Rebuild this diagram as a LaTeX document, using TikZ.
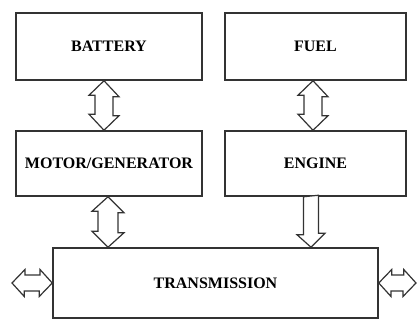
\documentclass[tikz,border=0pt]{standalone}
\usepackage{fontspec}
\setmainfont{Liberation Serif}
\begin{document}
\begin{tikzpicture}[x=1pt,y=-1pt,
 box/.style={draw=black!80,line width=1.5pt,fill=white,inner sep=0pt,font=\bfseries\fontsize{16}{19}\selectfont},
 fat/.style={draw=black!80,line width=1.2pt,fill=white,line join=miter}]
\useasboundingbox[fill=white] (0,0) rectangle (418,320);
\node[box,minimum width=186,minimum height=67] (bat) at (109,46.5) {BATTERY};
\node[box,minimum width=181,minimum height=67] (fuel) at (315.5,46.5) {FUEL};
\node[box,minimum width=186,minimum height=65] (mot) at (109,163.5) {MOTOR/GENERATOR};
\node[box,minimum width=181,minimum height=65] (eng) at (315.5,163.5) {ENGINE};
\node[box,minimum width=325,minimum height=70] (trans) at (215.5,283) {TRANSMISSION};
\coordinate (lend) at (12,283);
\coordinate (rend) at (416,283);
% battery <-> motor
\draw[fat] ([xshift=-5pt]bat.south) -- ++(15,16) -- ++(-6,0) -- ++(0,19) -- ++(6,0) -- ([xshift=-5pt]mot.north) -- ++(-15,-16) -- ++(6,0) -- ++(0,-19) -- ++(-6,0) -- cycle;
% fuel <-> engine
\draw[fat] ([xshift=-2.5pt]fuel.south) -- ++(15,16) -- ++(-6,0) -- ++(0,19) -- ++(6,0) -- ([xshift=-2.5pt]eng.north) -- ++(-15,-16) -- ++(6,0) -- ++(0,-19) -- ++(-6,0) -- cycle;
% motor <-> transmission
\draw[fat] ([xshift=-1pt]mot.south) -- ++(16,16) -- ++(-6,0) -- ++(0,20) -- ++(6,0) -- ([xshift=-1pt]mot.south |- trans.north) -- ++(-16,-16) -- ++(6,0) -- ++(0,-20) -- ++(-6,0) -- cycle;
% engine -> transmission
\draw[fat] ([xshift=-12pt]eng.south) -- ++(0,38) -- ++(-6.5,0) -- ([xshift=-4.5pt]eng.south |- trans.north) -- ++(14,-14) -- ++(-6.5,0) -- ++(0,-38) -- cycle;
% left
\draw[fat] (lend) -- ++(13,-13.5) -- ++(0,5.5) -- ++(15,0) -- ++(0,-5.5) -- (trans.west) -- ++(-13,13.5) -- ++(0,-5.5) -- ++(-15,0) -- ++(0,5.5) -- cycle;
% right
\draw[fat] (trans.east) -- ++(13,-13.5) -- ++(0,5.5) -- ++(12,0) -- ++(0,-5.5) -- (rend) -- ++(-13,13.5) -- ++(0,-5.5) -- ++(-12,0) -- ++(0,5.5) -- cycle;
\end{tikzpicture}
\end{document}
